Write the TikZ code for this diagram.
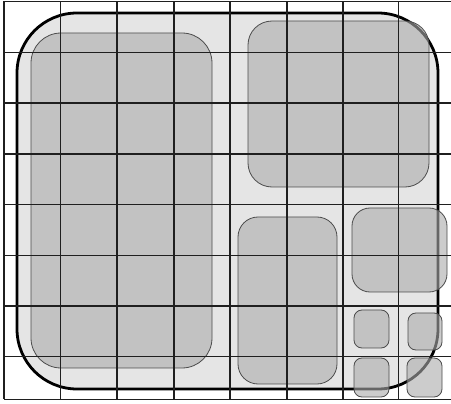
\documentclass[tikz,border=0pt]{standalone}
\begin{document}
\begin{tikzpicture}[x=1pt,y=-1pt,
  outerbox/.style={draw=black,line width=2.8pt,fill=black!10,rounded corners=60pt},
  innerbox/.style={draw=black!70,line width=0.8pt,fill=black!33,fill opacity=0.6},
  gridline/.style={draw=black!88,line width=1.9pt}]
\useasboundingbox (0,0) rectangle (451,404);
\fill[white] (0,0) rectangle (451,404);
\path[outerbox] (17,13) rectangle (438,389);
\path[innerbox,rounded corners=30pt] (31,33) rectangle (212,368);
\path[innerbox,rounded corners=24pt] (248,21) rectangle (429,187);
\path[innerbox,rounded corners=20pt] (238,217) rectangle (337,384);
\path[innerbox,rounded corners=18pt] (352,208) rectangle (447,292);
\path[innerbox,rounded corners=8pt] (354,310) rectangle (389,348);
\path[innerbox,rounded corners=8pt] (408,313) rectangle (442,350);
\path[innerbox,rounded corners=8pt] (354,358) rectangle (389,397);
\path[innerbox,rounded corners=8pt] (407,358) rectangle (442,397);
\foreach \gx in {4,60.5,117,174,230,287,343,398.5}
  \draw[gridline] (\gx,1.5) -- (\gx,399.5);
\foreach \gy in {1.5,52.5,103,154,204.5,255.5,306,356.5,399.5}
  \draw[gridline] (4,\gy) -- (451,\gy);
\end{tikzpicture}
\end{document}
